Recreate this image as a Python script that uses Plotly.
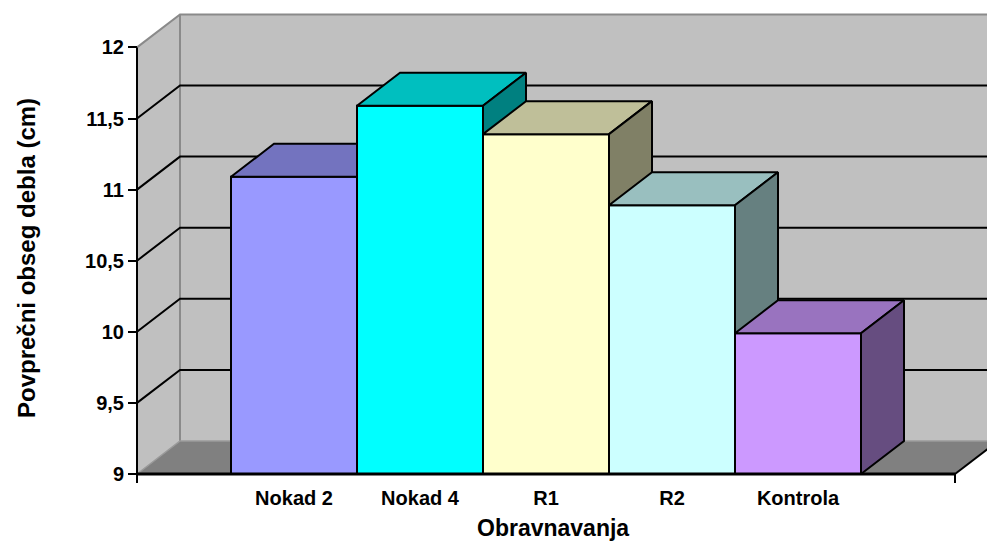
import plotly.graph_objects as go

# ---------------- data ----------------
categories = ["Nokad 2", "Nokad 4", "R1", "R2", "Kontrola"]
values = [11.09, 11.59, 11.39, 10.89, 9.99]
front_colors = ["#9999FF", "#00FFFF", "#FFFFCC", "#CCFFFF", "#CC99FF"]
top_colors = ["#7373BF", "#00BFBF", "#BFBF99", "#99BFBF", "#9973BF"]
side_colors = ["#4D4D80", "#008080", "#808066", "#668080", "#664D80"]
y_ticks = [9, 9.5, 10, 10.5, 11, 11.5, 12]
x_title = "Obravnavanja"
y_title = "Povprečni obseg debla (cm)"

# ---------------- geometry (pixel layout) ----------------
FIG_W, FIG_H = 987, 542
PXX = 126.0      # pixels per category
PXY = 142.2      # pixels per value unit
Y0, Y1 = y_ticks[0], y_ticks[-1]
n = len(categories)
x_left = -0.5 - 94 / PXX          # front-left corner of the floor
x_right = n - 0.5 + 94 / PXX      # front-right corner of the floor
DX = 43 / PXX                     # depth offset (x)
DY = 33 / PXY                     # depth offset (y)

plot_left_px, plot_right_px = 132, FIG_W
plot_top_px, plot_bottom_px = 6, 484
axis_px, base_px = 137, 474
x_min = x_left - (axis_px - plot_left_px) / PXX
x_max = x_min + (plot_right_px - plot_left_px) / PXX
y_min = Y0 - (plot_bottom_px - base_px) / PXY
y_max = y_min + (plot_bottom_px - plot_top_px) / PXY

WALL = "#C0C0C0"
FLOOR = "#808080"
EDGE = "#8A8A8A"

fig = go.Figure()


def poly(pts, fill, line_color="black", lw=0):
    xs = [p[0] for p in pts] + [pts[0][0]]
    ys = [p[1] for p in pts] + [pts[0][1]]
    fig.add_trace(go.Scatter(x=xs, y=ys, mode="lines", fill="toself",
                             fillcolor=fill,
                             line=dict(color=line_color, width=lw),
                             hoverinfo="skip", showlegend=False))


def lines(xs, ys, color, width):
    fig.add_trace(go.Scatter(x=xs, y=ys, mode="lines",
                             line=dict(color=color, width=width),
                             hoverinfo="skip", showlegend=False))


xb0 = x_left + DX
xb1 = x_right + DX
# walls and floor
poly([(xb0, Y0 + DY), (xb1, Y0 + DY), (xb1, Y1 + DY), (xb0, Y1 + DY)], WALL)
poly([(x_left, Y0), (x_left, Y1), (xb0, Y1 + DY), (xb0, Y0 + DY)], WALL)
poly([(x_left, Y0), (x_right, Y0), (x_right + DX, Y0 + DY), (xb0, Y0 + DY)], FLOOR)

# wall edges (grey)
lines([x_left, xb0, xb1], [Y1, Y1 + DY, Y1 + DY], EDGE, 2)
lines([xb0, xb0], [Y0 + DY, Y1 + DY], EDGE, 2)
lines([x_left, xb0, xb1], [Y0, Y0 + DY, Y0 + DY], "#9A9A9A", 1.5)

# gridlines (black) on side wall and back wall
gx, gy = [], []
for v in y_ticks[1:-1]:
    gx += [x_left, xb0, xb1, None]
    gy += [v, v + DY, v + DY, None]
lines(gx, gy, "black", 2)

# 3D bars, painted left to right
for i, v in enumerate(values):
    x0, x1 = i - 0.5, i + 0.5
    poly([(x0, Y0), (x1, Y0), (x1, v), (x0, v)], front_colors[i], "black", 2)
    poly([(x0, v), (x1, v), (x1 + DX, v + DY), (x0 + DX, v + DY)], top_colors[i], "black", 2)
    poly([(x1, Y0), (x1 + DX, Y0 + DY), (x1 + DX, v + DY), (x1, v)], side_colors[i], "black", 2)

# front axes
lines([x_left, x_left], [Y0, Y1], "black", 2)
lines([x_right, x_right + DX], [Y0, Y0 + DY], "black", 2)
lines([x_left, x_right], [Y0, Y0], "black", 3)
tick_dy = 9 / PXY
lines([x_left, x_left, None, x_right, x_right],
      [Y0, Y0 - tick_dy, None, Y0, Y0 - tick_dy], "black", 2)

FONT = "Liberation Sans, Arial, sans-serif"
plot_w = plot_right_px - plot_left_px
plot_h = plot_bottom_px - plot_top_px

fig.update_layout(
    width=FIG_W, height=FIG_H,
    margin=dict(l=plot_left_px, r=FIG_W - plot_right_px,
                t=plot_top_px, b=FIG_H - plot_bottom_px, pad=0),
    paper_bgcolor="white", plot_bgcolor="white",
    separators=", ",
    showlegend=False,
    xaxis=dict(range=[x_min, x_max], tickmode="array",
               tickvals=list(range(n)), ticktext=categories,
               ticks="", showgrid=False, zeroline=False, showline=False,
               tickfont=dict(family=FONT, size=20, color="black", weight="bold"),
               fixedrange=True),
    yaxis=dict(range=[y_min, y_max], tickmode="array", tickvals=y_ticks,
               anchor="free", position=(axis_px - plot_left_px) / plot_w,
               ticks="outside", ticklen=9, tickwidth=2, tickcolor="black",
               showgrid=False, zeroline=False, showline=False,
               tickfont=dict(family=FONT, size=20, color="black", weight="bold"),
               fixedrange=True),
    annotations=[
        dict(text=x_title, xref="paper", yref="paper",
             x=(553 - plot_left_px) / plot_w, y=(plot_bottom_px - 528) / plot_h,
             xanchor="center", yanchor="middle", showarrow=False,
             font=dict(family=FONT, size=23, color="black", weight="bold")),
        dict(text=y_title, xref="paper", yref="paper",
             x=(26 - plot_left_px) / plot_w, y=(plot_bottom_px - 258) / plot_h,
             xanchor="center", yanchor="middle", textangle=-90, showarrow=False,
             font=dict(family=FONT, size=24, color="black", weight="bold")),
    ],
)

fig.write_html("out.html")
